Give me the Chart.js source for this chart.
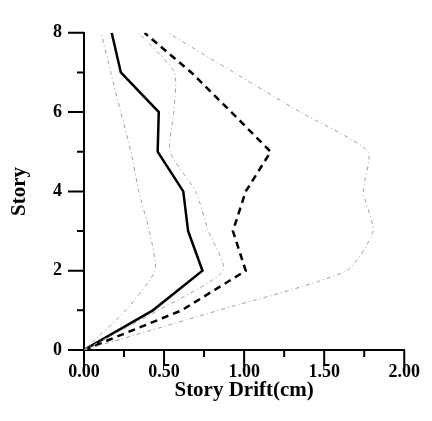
<!DOCTYPE html>
<html><head><meta charset="utf-8">
<script src="https://cdn.jsdelivr.net/npm/chart.js@4"></script>
<style>html,body{margin:0;padding:0;background:#fff}#wrap{width:432px;height:421px}</style>
</head><body><div id="wrap"><canvas id="c" width="432" height="421"></canvas></div>
<script>
const stories = [0, 1, 2, 3, 4, 5, 6, 7, 8];
const driftSolid = [0, 0.43, 0.74, 0.65, 0.62, 0.46, 0.467, 0.23, 0.173];
const driftDashed = [0, 0.61, 1.01, 0.93, 1.01, 1.166, 0.92, 0.67, 0.378];
const driftGrayLeft = [0, 0.26, 0.443, 0.408, 0.342, 0.293, 0.229, 0.167, 0.107];
const driftGrayMid = [0, 0.463, 0.87, 0.777, 0.697, 0.537, 0.56, 0.565, 0.34];
const driftGrayRight = [0, 0.84, 1.64, 1.805, 1.744, 1.774, 1.35, 0.935, 0.524];
const xMajorTicks = [0, 0.5, 1, 1.5, 2];
const xMinorTicks = [0.25, 0.75, 1.25, 1.75];
const yMajorTicks = [0, 2, 4, 6, 8];
const yMinorTicks = [1, 3, 5, 7];
const xTitle = 'Story Drift(cm)';
const yTitle = 'Story';

const toPts = arr => arr.map((x, i) => ({x: x, y: stories[i]}));
const FONT = '"Liberation Serif", "Times New Roman", serif';

const grayStyle = {borderColor: '#a0a0a0', borderWidth: 1, borderDash: [4, 3, 1, 3], tension: 0.2};
const datasets = [
  Object.assign({label: 'gray-left', data: toPts(driftGrayLeft)}, grayStyle),
  Object.assign({label: 'gray-mid', data: toPts(driftGrayMid)}, grayStyle),
  Object.assign({label: 'gray-right', data: toPts(driftGrayRight)}, grayStyle),
  {label: 'solid', data: toPts(driftSolid), borderColor: '#000', borderWidth: 2.5, tension: 0},
  {label: 'dashed', data: toPts(driftDashed), borderColor: '#000', borderWidth: 2.5, borderDash: [7, 5], tension: 0}
];

const tickPlugin = {
  id: 'customTicks',
  afterDraw(chart) {
    const ctx = chart.ctx, xs = chart.scales.x, ys = chart.scales.y;
    const a = chart.chartArea;
    ctx.save();
    ctx.strokeStyle = '#000';
    ctx.lineWidth = 2;
    ctx.beginPath();
    xMajorTicks.forEach(v => { const p = xs.getPixelForValue(v); ctx.moveTo(p, a.bottom); ctx.lineTo(p, a.bottom + 16); });
    xMinorTicks.forEach(v => { const p = xs.getPixelForValue(v); ctx.moveTo(p, a.bottom); ctx.lineTo(p, a.bottom + 7); });
    yMajorTicks.forEach(v => { const p = ys.getPixelForValue(v); ctx.moveTo(a.left, p); ctx.lineTo(a.left - 16, p); });
    yMinorTicks.forEach(v => { const p = ys.getPixelForValue(v); ctx.moveTo(a.left, p); ctx.lineTo(a.left - 7, p); });
    ctx.stroke();
    ctx.restore();
  }
};

new Chart(document.getElementById('c'), {
  type: 'scatter',
  data: {datasets: datasets},
  plugins: [tickPlugin],
  options: {
    responsive: false,
    devicePixelRatio: 1,
    animation: false,
    showLine: true,
    elements: {point: {radius: 0, hoverRadius: 0}, line: {fill: false}},
    layout: {padding: {left: 0, right: 20, top: 16, bottom: 0}},
    plugins: {legend: {display: false}, tooltip: {enabled: false}},
    scales: {
      x: {
        type: 'linear', position: 'bottom', min: 0, max: 2,
        afterBuildTicks: s => { s.ticks = xMajorTicks.map(v => ({value: v})); },
        afterFit: s => { s.height = 71; },
        grid: {display: false, drawTicks: false},
        border: {display: true, color: '#000', width: 2},
        ticks: {
          color: '#000', padding: 12,
          font: {family: FONT, size: 18, weight: 'bold'},
          callback: v => Number(v).toFixed(2),
          maxRotation: 0, autoSkip: false
        },
        title: {display: true, text: xTitle, color: '#000', font: {family: FONT, size: 21, weight: 'bold'}, padding: {top: 0, bottom: 18}}
      },
      y: {
        type: 'linear', position: 'left', min: 0, max: 8,
        afterBuildTicks: s => { s.ticks = yMajorTicks.map(v => ({value: v})); },
        afterFit: s => { s.width = 84; },
        grid: {display: false, drawTicks: false},
        border: {display: true, color: '#000', width: 2},
        ticks: {
          color: '#000', padding: 22,
          font: {family: FONT, size: 18, weight: 'bold'},
          callback: v => String(v), autoSkip: false
        },
        title: {display: true, text: yTitle, color: '#000', font: {family: FONT, size: 21, weight: 'bold'}, padding: {top: 7, bottom: 0}}
      }
    }
  }
});
</script>
</body></html>
